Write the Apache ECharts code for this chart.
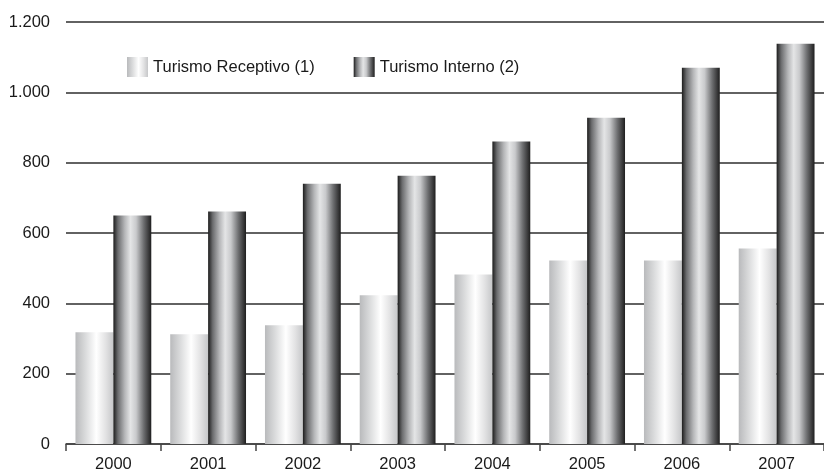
<!DOCTYPE html>
<html><head><meta charset="utf-8">
<script src="https://cdn.jsdelivr.net/npm/echarts@6/dist/echarts.min.js"></script>
<style>html,body{margin:0;padding:0;background:#fff}#c{width:824px;height:473px}</style>
</head><body><div id="c"></div>
<script>
const categories = ['2000','2001','2002','2003','2004','2005','2006','2007'];
const receptivo = [318, 312, 338, 423, 482, 522, 522, 556];
const interno = [650, 661, 740, 763, 860, 928, 1070, 1138];
const seriesNames = ['Turismo Receptivo (1)', 'Turismo Interno (2)'];
const yTicks = [0, 200, 400, 600, 800, 1000, 1200];

const FONT = '"Liberation Sans", Arial, sans-serif';
const lightGrad = new echarts.graphic.LinearGradient(0,0,1,0,[
  {offset:0, color:'#b9babc'},
  {offset:0.25, color:'#d8d9da'},
  {offset:0.55, color:'#ffffff'},
  {offset:0.8, color:'#e2e2e3'},
  {offset:1, color:'#c6c7c9'}
]);
const darkGrad = new echarts.graphic.LinearGradient(0,0,1,0,[
  {offset:0, color:'#1c1c1c'},
  {offset:0.12, color:'#6b6c6e'},
  {offset:0.3, color:'#b5b6b8'},
  {offset:0.45, color:'#e4e5e6'},
  {offset:0.6, color:'#c9cacc'},
  {offset:0.8, color:'#6d6e70'},
  {offset:0.93, color:'#3a3a3b'},
  {offset:1, color:'#1e1e1e'}
]);
const chart = echarts.init(document.getElementById('c'), null, {renderer:'canvas'});
chart.setOption({
  animation:false,
  backgroundColor:'#fff',
  textStyle:{fontFamily:FONT},
  legend:{
    left:122, top:52, itemWidth:21, itemHeight:20, itemGap:39,
    textStyle:{fontFamily:FONT, fontSize:16.5, color:'#1a1a1a'},
    data:[{name:seriesNames[0], icon:'rect'},{name:seriesNames[1], icon:'rect'}]
  },
  grid:{left:66, right:0, top:22, bottom:28, containLabel:false},
  xAxis:{
    type:'category', data:categories,
    axisLine:{lineStyle:{color:'#444', width:1.5}},
    axisTick:{show:true, length:7, lineStyle:{color:'#444', width:1.5}},
    axisLabel:{fontFamily:FONT, fontSize:16.5, color:'#1a1a1a', margin:12}
  },
  yAxis:{
    type:'value', min:yTicks[0], max:yTicks[yTicks.length-1], interval:200,
    axisLine:{show:false}, axisTick:{show:false},
    splitLine:{lineStyle:{color:'#2e2e2e', width:1.5}},
    axisLabel:{fontFamily:FONT, fontSize:16.5, color:'#1a1a1a', margin:16,
      formatter:v=>String(v).replace(/\B(?=(\d{3})+(?!\d))/g,'.')}
  },
  series:[
    {name:seriesNames[0], type:'bar', data:receptivo, barGap:'0%', barCategoryGap:'20%',
     itemStyle:{color:lightGrad}},
    {name:seriesNames[1], type:'bar', data:interno,
     itemStyle:{color:darkGrad}}
  ]
});
</script></body></html>
